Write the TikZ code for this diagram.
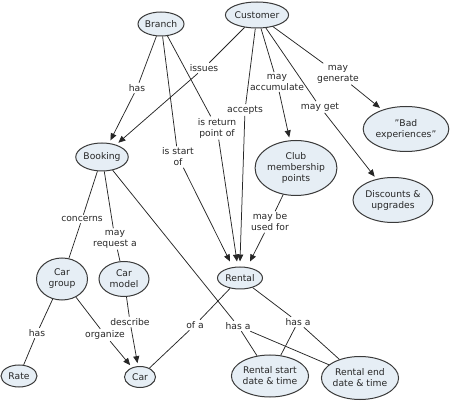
\documentclass[tikz,border=0pt]{standalone}
\usepackage{fontspec}
\setmainfont{DejaVu Sans}
\usetikzlibrary{shapes.geometric,arrows.meta}
\definecolor{cfill}{HTML}{E6EEF5}
\definecolor{cline}{HTML}{3A3A3A}
\tikzset{
  concept/.style={ellipse, draw=cline, line width=1pt, fill=cfill, inner sep=0pt, align=center, font=\fontsize{9.2}{11}\selectfont, text=black!85},
  lab/.style={inner sep=1.5pt, align=center, font=\fontsize{9.2}{11}\selectfont, text=black!85},
  con/.style={draw=black!85, line width=0.75pt},
  arr/.style={con, -{Triangle[length=7pt,width=6pt]}, shorten >=3pt},
  arrn/.style={con, -{Triangle[length=7pt,width=6pt]}},
}
\begin{document}
\begin{tikzpicture}[x=1pt,y=-1pt]
\useasboundingbox (0,0) rectangle (450,403);
% concepts
\node[concept, minimum width=46pt, minimum height=24pt] (branch) at (161,24) {Branch};
\node[concept, minimum width=59pt, minimum height=26pt] (cust) at (257,15) {Customer};
\node[concept, minimum width=52pt, minimum height=28pt] (book) at (102,157) {Booking};
\node[concept, minimum width=78pt, minimum height=55pt] (club) at (296,168) {Club\\membership\\points};
\node[concept, minimum width=83pt, minimum height=45pt] (bad) at (406,129) {"Bad\\experiences"};
\node[concept, minimum width=80pt, minimum height=45pt] (disc) at (393,200) {Discounts \&\\upgrades};
\node[concept, minimum width=45pt, minimum height=22pt] (rental) at (240,278) {Rental};
\node[concept, minimum width=51pt, minimum height=42pt] (cgroup) at (62,279) {Car\\group};
\node[concept, minimum width=50pt, minimum height=35pt] (cmodel) at (124,279) {Car\\model};
\node[concept, minimum width=36pt, minimum height=22pt] (rate) at (19,376) {Rate};
\node[concept, minimum width=31pt, minimum height=21pt] (car) at (140,377) {Car};
\node[concept, minimum width=76pt, minimum height=42pt] (rstart) at (270,376) {Rental start\\date \& time};
\node[concept, minimum width=77pt, minimum height=43pt] (rend) at (360,378) {Rental end\\date \& time};
% arrow ends above Rental
\coordinate (r1) at ([xshift=-10pt,yshift=5pt]rental.north);
\coordinate (r2) at ([xshift=-3pt,yshift=5pt]rental.north);
\coordinate (r3) at ([xshift=0pt,yshift=5pt]rental.north);
\coordinate (r4) at ([xshift=10pt,yshift=5pt]rental.north);
% labels
\node[lab] (lhas1) at (137,88) {has};
\node[lab] (lissues) at (204,68) {issues};
\node[lab] (lstart) at (178,157) {is start\\of};
\node[lab] (lreturn) at (217,128) {is return\\point of};
\node[lab] (laccepts) at (245,110) {accepts};
\node[lab] (laccum) at (277,82) {may\\accumulate};
\node[lab] (lget) at (320,107) {may get};
\node[lab] (lgen) at (338,74) {may\\generate};
\node[lab] (lused) at (270,222) {may be\\used for};
\node[lab] (lconc) at (82,219) {concerns};
\node[lab] (lreq) at (115,239) {may\\request a};
\node[lab] (lhasa1) at (238,326) {has a};
\node[lab] (lhasa2) at (298,322) {has a};
\node[lab] (lofa) at (195,325) {of a};
\node[lab] (lhas2) at (37,333) {has};
\node[lab] (lorg) at (105,335) {organize};
\node[lab] (ldesc) at (130,322) {describe};
% connectors
\draw[con] (branch) -- (lhas1); \draw[arr] (lhas1) -- (book);
\draw[con] (cust) -- (lissues); \draw[arr] (lissues) -- (book);
\draw[con] (branch) -- (lstart); \draw[arrn] (lstart) -- (r1);
\draw[con] (branch) -- (lreturn); \draw[arrn] (lreturn) -- (r2);
\draw[con] (cust) -- (laccepts); \draw[arrn] (laccepts) -- (r3);
\draw[con] (cust) -- (laccum); \draw[arr] (laccum) -- (club);
\draw[con] (cust) -- (lget); \draw[arr] (lget) -- (disc);
\draw[con] (cust) -- (lgen); \draw[arr] (lgen) -- (bad);
\draw[con] (club) -- (lused); \draw[arrn] (lused) -- (r4);
\draw[con] (book) -- (lconc) -- (cgroup);
\draw[con] (book) -- (lreq) -- (cmodel);
\draw[con] (book) -- (lhasa1);
\draw[con] (lhasa1) -- (rstart);
\draw[con] (lhasa1) -- (rend);
\draw[con] (rental) -- (lhasa2);
\draw[con] (lhasa2) -- (rstart);
\draw[con] (lhasa2) -- (rend);
\draw[con] (rental) -- (lofa) -- (car);
\draw[con] (cgroup) -- (lhas2) -- (rate);
\draw[con] (cgroup) -- (lorg); \draw[arr] (lorg) -- (car);
\draw[con] (cmodel) -- (ldesc); \draw[arr] (ldesc) -- (car);
\end{tikzpicture}
\end{document}
